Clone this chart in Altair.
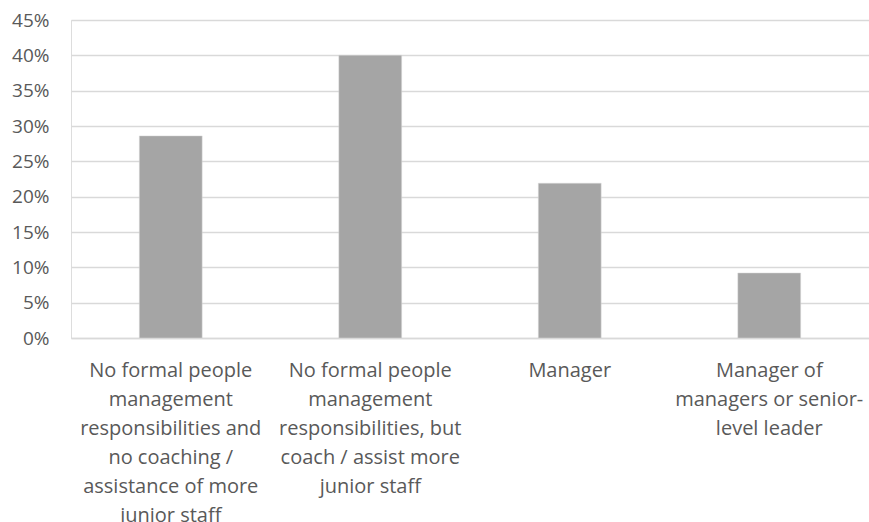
import altair as alt
import pandas as pd

categories = [
    "No formal people|management|responsibilities and|no coaching /|assistance of more|junior staff",
    "No formal people|management|responsibilities, but|coach / assist more|junior staff",
    "Manager",
    "Manager of|managers or senior-|level leader",
]
values = [0.286, 0.400, 0.219, 0.092]

df = pd.DataFrame({"cat": categories, "val": values})

font = "Open Sans"

chart = alt.Chart(df).mark_bar(color="#A5A5A5", stroke="#D9D9D9", strokeWidth=0.5).encode(
    x=alt.X(
        "cat:N",
        sort=categories,
        title=None,
        scale=alt.Scale(paddingInner=0.685, paddingOuter=0.3425),
        axis=alt.Axis(
            labelAngle=0,
            labelExpr="split(datum.label, '|')",
            labelFont=font,
            labelFontSize=20,
            labelColor="#595959",
            labelLineHeight=29,
            labelPadding=22,
            labelBaseline="top",
            labelLimit=300,
            ticks=False,
            domain=True,
            domainColor="#D9D9D9",
            domainWidth=1.3,
            grid=False,
        ),
    ),
    y=alt.Y(
        "val:Q",
        title=None,
        scale=alt.Scale(domain=[0, 0.45], nice=False),
        axis=alt.Axis(
            format=".0%",
            values=[0, 0.05, 0.1, 0.15, 0.2, 0.25, 0.3, 0.35, 0.4, 0.45],
            labelFont=font,
            labelFontSize=19,
            labelColor="#595959",
            labelPadding=22,
            ticks=False,
            domain=False,
            grid=True,
            gridColor="#D9D9D9",
            gridWidth=1.3,
        ),
    ),
).properties(
    width=798,
    height=318,
    padding={"left": 71, "top": 20, "right": 0, "bottom": 184},
    autosize=alt.AutoSizeParams(type="none"),
).configure_view(stroke=None).configure(background="white")

chart.save("out.html", embed_options={"renderer": "svg", "actions": False})
